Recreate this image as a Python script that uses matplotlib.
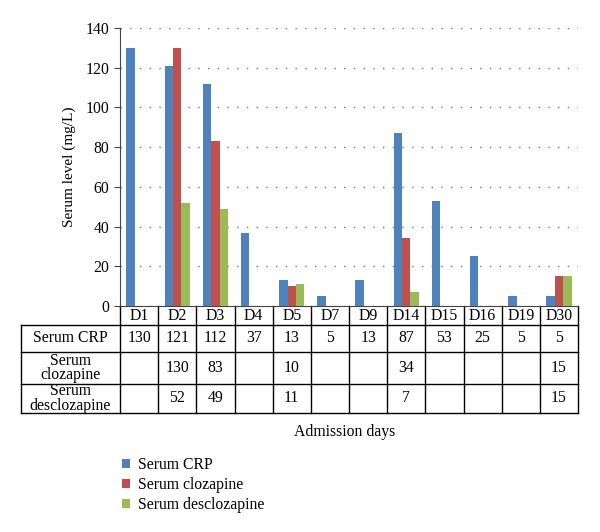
import numpy as np
import matplotlib
matplotlib.use('Agg')
import matplotlib.pyplot as plt
from matplotlib.transforms import blended_transform_factory

plt.rcParams['font.family'] = ['Liberation Serif', 'DejaVu Serif']

days = ['D1', 'D2', 'D3', 'D4', 'D5', 'D7', 'D9', 'D14', 'D15', 'D16', 'D19', 'D30']
crp = [130, 121, 112, 37, 13, 5, 13, 87, 53, 25, 5, 5]
clozapine = [None, 130, 83, None, 10, None, None, 34, None, None, None, 15]
desclozapine = [None, 52, 49, None, 11, None, None, 7, None, None, None, 15]
series_names = ['Serum CRP', 'Serum clozapine', 'Serum desclozapine']
row_labels = ['Serum CRP', 'Serum\nclozapine', 'Serum\ndesclozapine']
colors = ['#4F81BD', '#C0504D', '#9BBB59']

W, H = 600, 532
fig = plt.figure(figsize=(6, 5.32), dpi=100)
ax = fig.add_axes([120 / W, 1 - 306 / H, 458 / W, 278 / H])

x = np.arange(len(days))
bw = 0.22
all_series = [crp, clozapine, desclozapine]
for i, (vals, name, c) in enumerate(zip(all_series, series_names, colors)):
    v = np.array([np.nan if k is None else k for k in vals], dtype=float)
    ax.bar(x + (i - 1) * bw, v, bw, color=c, label=name, zorder=3)

fs = 11.3
ax.set_xlim(-0.5, len(days) - 0.5)
ax.set_ylim(0, 140)
ax.set_yticks(range(0, 141, 20))
ax.yaxis.grid(True, linestyle=(0, (1, 6)), color='#777777', linewidth=1.0)
ax.set_xticks([])
for s in ['top', 'right']:
    ax.spines[s].set_visible(False)
ax.spines['left'].set_color('#444444')
ax.spines['bottom'].set_color('#444444')
ax.tick_params(axis='y', direction='out', length=4, color='#444444', labelsize=fs)
ax.set_ylabel('Serum level (mg/L)', fontsize=11, labelpad=7)

# data table drawn under the axis: x in data units, y in axes units
tr = blended_transform_factory(ax.transData, ax.transAxes)
col_w = 458 / len(days)           # pixels per category
x_lab = -0.5 - 99 / col_w         # left edge of row-label column
row_pix = [306, 325, 352, 384, 413]
row_y = [(306 - p) / 278 for p in row_pix]
x_right = len(days) - 0.5

line_kw = dict(color='black', linewidth=1.0, transform=tr, clip_on=False)
for k in range(1, len(row_y)):
    ax.plot([x_lab, x_right], [row_y[k], row_y[k]], **line_kw)
ax.plot([x_lab, x_lab], [row_y[1], row_y[-1]], **line_kw)
for b in np.arange(len(days) + 1) - 0.5:
    ax.plot([b, b], [row_y[0], row_y[-1]], **line_kw)

for j, d in enumerate(days):
    ax.text(j, (row_y[0] + row_y[1]) / 2, d, transform=tr, ha='center', va='center', fontsize=fs)
for r, (lab, vals) in enumerate(zip(row_labels, all_series)):
    yc = (row_y[r + 1] + row_y[r + 2]) / 2
    ax.text((x_lab - 0.5) / 2, yc, lab, transform=tr, ha='center', va='center',
            fontsize=fs, linespacing=0.9)
    for j, v in enumerate(vals):
        if v is not None:
            ax.text(j, yc, str(v), transform=tr, ha='center', va='center', fontsize=fs)

fig.text(345 / W, 1 - 432 / H, 'Admission days', ha='center', va='center', fontsize=fs)

handles, labels = ax.get_legend_handles_labels()
fig.legend(handles, labels, loc='upper left', bbox_to_anchor=(108 / W, 1 - 443 / H),
           frameon=False, fontsize=fs, handlelength=0.5, handleheight=0.5,
           handletextpad=0.5, labelspacing=0.25)

fig.savefig('out.png', dpi=100)
